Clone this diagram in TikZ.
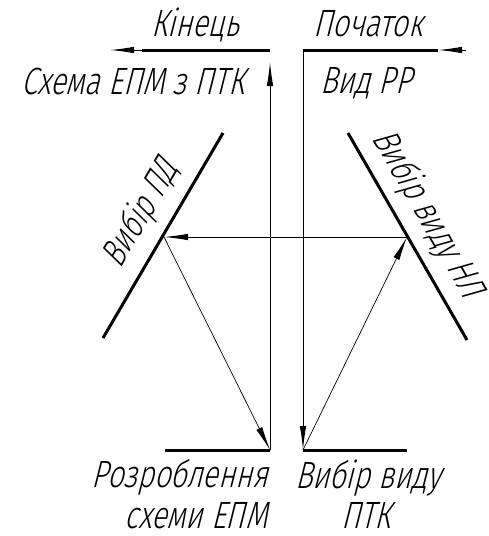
\documentclass[tikz,border=0pt]{standalone}
\usepackage{fontspec}
\newfontfamily\gost{Fira Sans Light}[FakeSlant=0.25, FakeStretch=0.76]
\usetikzlibrary{arrows.meta}
\begin{document}
\begin{tikzpicture}[x=1pt,y=-1pt,
  thickline/.style={line width=3pt},
  thinline/.style={line width=1pt},
  fineline/.style={line width=0.7pt},
  arr/.style={-{Latex[length=24pt,width=6.5pt]}},
  lbl/.style={font=\gost\fontsize{38}{42}\selectfont, inner sep=0pt, anchor=base},
  rlbl/.style={font=\gost\fontsize{37}{42}\selectfont, inner sep=0pt, anchor=center}]
\useasboundingbox (0,0) rectangle (489,536);
% key points
\coordinate (endtip) at (110,50);
\coordinate (endL) at (142,50);
\coordinate (endR) at (270,50);
\coordinate (upTip) at (270,62);
\coordinate (startR) at (438,50);
\coordinate (startIn) at (466,50);
\coordinate (startL) at (303,50);
\coordinate (ldTop) at (223,133);
\coordinate (ldBot) at (103,338);
\coordinate (ldPt) at (164,237);
\coordinate (rdTop) at (348,133);
\coordinate (rdBot) at (467,340);
\coordinate (rdPt) at (407,237);
\coordinate (blL) at (165,450);
\coordinate (blR) at (270,450);
\coordinate (brL) at (303,450);
\coordinate (brR) at (407,450);
% thick element lines
\draw[thickline] (endL) -- (endR);
\draw[thickline] (startL) -- (startR);
\draw[thickline] (ldTop) -- (ldBot);
\draw[thickline] (rdTop) -- (rdBot);
\draw[thickline] (blL) -- (blR);
\draw[thickline] (brL) -- (brR);
% arrows
\draw[thinline,arr] (endL) -- (endtip);
\draw[thinline,arr] (startIn) -- (startR);
\draw[thinline,arr] (startL) -- (brL);
\draw[thinline,arr] (blR) -- (upTip);
\draw[thinline,arr] (rdPt) -- (ldPt);
\draw[fineline,arr] (ldPt) -- (blR);
\draw[fineline,arr] (brL) -- (rdPt);
% labels
\node[lbl] (kinets) at (195,36) {Кінець};
\node[lbl] (schema) at (133,94) {Схема ЕПМ з ПТК};
\node[lbl] (pochatok) at (368,36) {Початок};
\node[lbl] (vyd) at (366,93) {Вид РР};
\node[lbl] (rozr) at (180,487) {Розроблення};
\node[lbl] (schemy) at (196,528) {схеми ЕПМ};
\node[lbl] (vybvyd) at (368,488) {Вибір виду};
\node[lbl] (ptk) at (366,528) {ПТК};
\node[rlbl, rotate=59.7] (vybpd) at (141,214) {Вибір ПД};
\node[rlbl, rotate=-60.1] (vybnl) at (427,214) {Вибір виду НЛ};
\end{tikzpicture}
\end{document}
